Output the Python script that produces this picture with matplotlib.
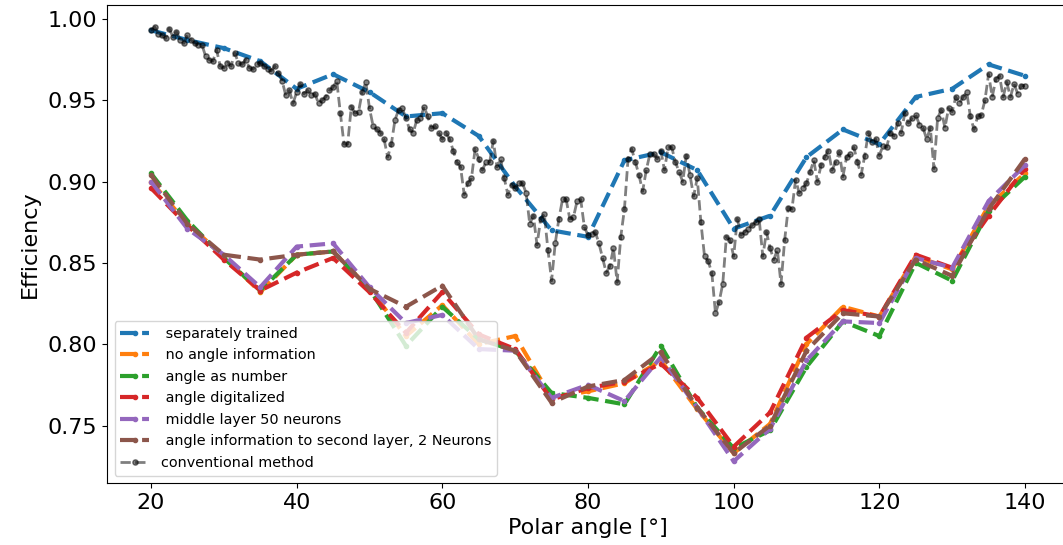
#!/usr/bin/env python3
"""
Efficiency versus polar angle for the different network trainings
compared with the conventional method.
"""

import numpy as np
import matplotlib

matplotlib.use("Agg")
import matplotlib.pyplot as plt

# angles of the network evaluations (5 degree steps)
angles = np.arange(20, 141, 5)

separately_trained = [0.993, 0.987, 0.982, 0.974, 0.957, 0.966, 0.955, 0.940, 0.942,
                      0.928, 0.897, 0.870, 0.866, 0.913, 0.918, 0.907, 0.871, 0.879,
                      0.915, 0.932, 0.923, 0.952, 0.957, 0.972, 0.965]
no_angle_info = [0.900, 0.874, 0.854, 0.832, 0.855, 0.857, 0.834, 0.805, 0.824,
                 0.800, 0.805, 0.767, 0.771, 0.776, 0.790, 0.760, 0.733, 0.751,
                 0.800, 0.823, 0.817, 0.854, 0.846, 0.885, 0.905]
angle_as_number = [0.905, 0.876, 0.853, 0.833, 0.855, 0.857, 0.834, 0.799, 0.823,
                   0.803, 0.796, 0.770, 0.767, 0.763, 0.799, 0.761, 0.736, 0.747,
                   0.786, 0.814, 0.805, 0.850, 0.839, 0.882, 0.903]
angle_digitalized = [0.896, 0.873, 0.852, 0.833, 0.844, 0.853, 0.832, 0.807, 0.832,
                     0.806, 0.797, 0.766, 0.773, 0.777, 0.788, 0.767, 0.737, 0.758,
                     0.804, 0.821, 0.817, 0.855, 0.847, 0.879, 0.908]
middle_layer_50 = [0.900, 0.871, 0.855, 0.835, 0.860, 0.862, 0.835, 0.813, 0.818,
                   0.797, 0.796, 0.767, 0.775, 0.765, 0.792, 0.761, 0.728, 0.748,
                   0.790, 0.814, 0.813, 0.853, 0.847, 0.888, 0.910]
second_layer_2n = [0.904, 0.874, 0.855, 0.852, 0.855, 0.857, 0.834, 0.823, 0.836,
                   0.803, 0.796, 0.764, 0.774, 0.778, 0.795, 0.761, 0.733, 0.750,
                   0.796, 0.819, 0.817, 0.852, 0.842, 0.883, 0.914]

# conventional method, 0.5 degree steps from 20 to 140
conv_angles = np.arange(20, 140.25, 0.5)
conventional = [
    0.993, 0.995, 0.991, 0.990, 0.988, 0.994, 0.989, 0.992, 0.987, 0.985,  # 20
    0.990, 0.987, 0.985, 0.984, 0.984, 0.977, 0.975, 0.974, 0.981, 0.971,  # 25
    0.970, 0.973, 0.971, 0.979, 0.973, 0.972, 0.975, 0.970, 0.969, 0.972,  # 30
    0.973, 0.971, 0.969, 0.968, 0.971, 0.967, 0.962, 0.953, 0.956, 0.948,  # 35
    0.955, 0.960, 0.954, 0.956, 0.953, 0.954, 0.948, 0.950, 0.952, 0.956,  # 40
    0.958, 0.962, 0.942, 0.923, 0.923, 0.946, 0.942, 0.943, 0.955, 0.961,  # 45
    0.945, 0.934, 0.932, 0.930, 0.926, 0.915, 0.923, 0.938, 0.944, 0.945,  # 50
    0.939, 0.932, 0.930, 0.938, 0.939, 0.946, 0.940, 0.933, 0.934, 0.930,  # 55
    0.926, 0.930, 0.926, 0.919, 0.912, 0.909, 0.892, 0.899, 0.902, 0.920,  # 60
    0.914, 0.907, 0.912, 0.912, 0.925, 0.909, 0.914, 0.902, 0.892, 0.898,  # 65
    0.896, 0.899, 0.899, 0.893, 0.874, 0.879, 0.861, 0.877, 0.880, 0.858,  # 70
    0.839, 0.862, 0.877, 0.889, 0.889, 0.877, 0.878, 0.888, 0.889, 0.872,  # 75
    0.867, 0.868, 0.869, 0.862, 0.853, 0.844, 0.848, 0.859, 0.838, 0.866,  # 80
    0.883, 0.914, 0.920, 0.912, 0.904, 0.894, 0.907, 0.917, 0.917, 0.914,  # 85
    0.919, 0.907, 0.921, 0.921, 0.912, 0.906, 0.900, 0.916, 0.904, 0.891,  # 90
    0.902, 0.875, 0.854, 0.851, 0.844, 0.819, 0.826, 0.837, 0.866, 0.864,  # 95
    0.854, 0.877, 0.867, 0.869, 0.871, 0.873, 0.875, 0.877, 0.854, 0.869,  # 100
    0.859, 0.852, 0.858, 0.837, 0.864, 0.884, 0.883, 0.901, 0.893, 0.896,  # 105
    0.899, 0.906, 0.913, 0.900, 0.910, 0.915, 0.919, 0.907, 0.912, 0.918,  # 110
    0.903, 0.915, 0.917, 0.921, 0.912, 0.904, 0.916, 0.930, 0.924, 0.926,  # 115
    0.916, 0.922, 0.921, 0.930, 0.928, 0.936, 0.930, 0.942, 0.936, 0.939,  # 120
    0.941, 0.935, 0.933, 0.926, 0.933, 0.908, 0.939, 0.944, 0.933, 0.945,  # 125
    0.943, 0.952, 0.948, 0.952, 0.955, 0.940, 0.932, 0.940, 0.941, 0.950,  # 130
    0.966, 0.952, 0.963, 0.965, 0.952, 0.961, 0.952, 0.960, 0.954, 0.959,  # 135
    0.959,  # 140
]

labels = [
    " separately trained",
    " no angle information",
    " angle as number",
    " angle digitalized",
    " middle layer 50 neurons",
    " angle information to second layer, 2 Neurons",
]


def main():
    fig = plt.figure(figsize=(10.63, 5.45), dpi=100)
    # right spine lies just outside the saved image
    ax = fig.add_axes([107.3 / 1063, 62 / 545, 961.4 / 1063, 477.7 / 545])

    series = [separately_trained, no_angle_info, angle_as_number,
              angle_digitalized, middle_layer_50, second_layer_2n]
    for values, label in zip(series, labels):
        ax.plot(angles, values, "--", marker=".", linewidth=3, label=label)

    ax.plot(conv_angles, conventional, "--", color="k", alpha=0.5,
            marker="o", markersize=3.8, linewidth=2, label="conventional method")

    ax.set_xlabel("Polar angle [°]", fontsize=16)
    ax.set_ylabel("Efficiency", fontsize=16, labelpad=6)
    ax.tick_params(labelsize=16)
    ax.legend(loc="lower left", fontsize=10.4, labelspacing=0.52)

    fig.savefig("out.png", dpi=100)
    plt.close(fig)


if __name__ == "__main__":
    main()
